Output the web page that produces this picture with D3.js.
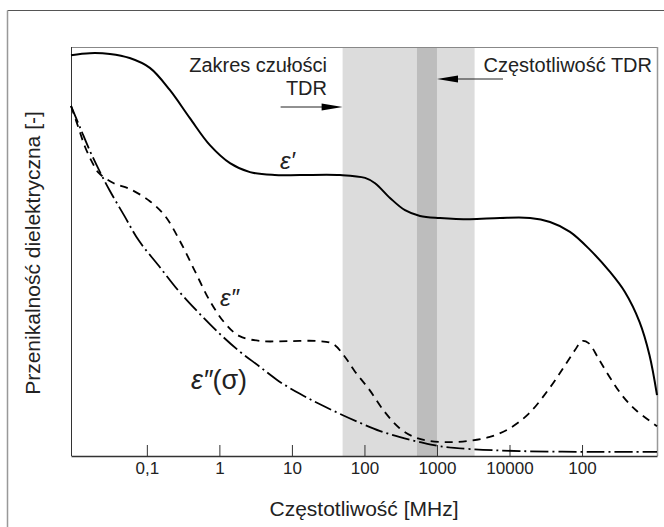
<!DOCTYPE html>
<html>
<head>
<meta charset="utf-8">
<script src="https://cdn.jsdelivr.net/npm/d3@7"></script>
<style>
  html, body { margin: 0; padding: 0; background: #fff; }
  svg { display: block; font-family: "Liberation Sans", Arial, sans-serif; }
</style>
</head>
<body>
<svg id="chart" width="664" height="527"></svg>
<script>
// Frequency axis ticks (MHz) and their printed labels
const tickValues = [0.1, 1, 10, 100, 1000, 10000, 100000];
const tickLabels = ["0,1", "1", "10", "100", "1000", "10000", "100"];

// Shaded frequency bands (MHz)
const tdrSensitivityRange = [50, 3300];
const tdrOperatingRange = [530, 1000];

// epsilon' (real permittivity), relative units
const realFreq = [0.009, 0.0164, 0.031, 0.058, 0.11, 0.207, 0.392, 0.74, 1.4, 2.64, 5.8, 12.9, 46, 102, 140, 225, 362, 583, 1100, 2850, 7400, 19200, 36200, 68200, 129000, 243000, 390000, 620000, 850000, 1080000];
const realVal  = [98.0, 98.5, 98.3, 97.3, 94.9, 89.5, 82.6, 76.0, 71.6, 69.4, 68.7, 68.7, 68.7, 68.0, 66.7, 63.1, 60.1, 58.7, 58.2, 57.9, 58.2, 58.2, 57.2, 54.8, 50.4, 45.0, 40.1, 32.8, 24.7, 14.9];

// epsilon'' (loss factor), relative units
const lossFreq = [0.009, 0.0112, 0.0139, 0.0173, 0.0217, 0.035, 0.058, 0.11, 0.178, 0.285, 0.46, 0.74, 1.19, 1.9, 3.8, 9.1, 23, 37, 53, 73, 118, 190, 305, 490, 780, 1470, 2760, 5200, 9700, 18300, 34000, 55000, 80000, 100000, 123000, 170000, 250000, 380000, 570000, 1080000];
const lossVal  = [85.6, 80.7, 75.8, 72.1, 69.2, 66.7, 65.3, 62.3, 58.7, 52.6, 45.2, 37.9, 32.5, 29.3, 28.1, 28.1, 28.1, 27.4, 24.4, 20.8, 16.1, 10.8, 6.8, 4.6, 3.7, 3.4, 3.7, 4.6, 6.6, 10.3, 16.1, 21.5, 25.9, 28.1, 27.6, 23.7, 18.8, 14.2, 11.0, 7.3];

// epsilon''(sigma) (conductivity loss), relative units
const condFreq = [0.009, 0.0122, 0.0164, 0.0222, 0.031, 0.049, 0.078, 0.146, 0.276, 0.52, 0.98, 1.86, 3.5, 6.6, 12.9, 24, 46, 87, 165, 310, 583, 1100, 2850, 14000, 180000, 1080000];
const condVal  = [85.6, 80.0, 74.6, 69.7, 64.8, 58.7, 52.6, 46.5, 40.3, 35.0, 30.1, 25.7, 22.0, 18.3, 15.2, 12.7, 10.3, 8.1, 6.1, 4.6, 3.4, 2.4, 1.7, 1.2, 1.0, 1.0];

const svg = d3.select("#chart");

const plot = { left: 71, right: 657, top: 47, bottom: 456 };

const x = d3.scaleLog().domain([0.009, 1080000]).range([plot.left, plot.right]);
const y = d3.scaleLinear().domain([0, 100]).range([plot.bottom, plot.top]);

// Outer frame (only the top and left edges fall inside the page)
svg.append("line").attr("x1", 7.5).attr("x2", 664).attr("y1", 10.5).attr("y2", 10.5)
  .attr("stroke", "#555").attr("stroke-width", 1);
svg.append("line").attr("x1", 7.5).attr("x2", 7.5).attr("y1", 10.5).attr("y2", 527)
  .attr("stroke", "#999").attr("stroke-width", 1.5);

// Frequency bands
svg.append("rect")
  .attr("x", x(tdrSensitivityRange[0])).attr("y", plot.top)
  .attr("width", x(tdrSensitivityRange[1]) - x(tdrSensitivityRange[0]))
  .attr("height", plot.bottom - plot.top)
  .attr("fill", "#dcdcdc");
svg.append("rect")
  .attr("x", x(tdrOperatingRange[0])).attr("y", plot.top)
  .attr("width", x(tdrOperatingRange[1]) - x(tdrOperatingRange[0]))
  .attr("height", plot.bottom - plot.top)
  .attr("fill", "#bdbdbd");

// Plot frame: light top and right edges
svg.append("line").attr("x1", plot.left).attr("x2", plot.right + 0.5)
  .attr("y1", plot.top + 0.5).attr("y2", plot.top + 0.5)
  .attr("stroke", "#888").attr("stroke-width", 1);
svg.append("line").attr("x1", plot.right + 0.5).attr("x2", plot.right + 0.5)
  .attr("y1", plot.top).attr("y2", plot.bottom)
  .attr("stroke", "#999").attr("stroke-width", 1.5);

// Left axis (no ticks)
svg.append("line").attr("x1", plot.left + 0.5).attr("x2", plot.left + 0.5)
  .attr("y1", plot.top).attr("y2", plot.bottom)
  .attr("stroke", "#333").attr("stroke-width", 1);

// Bottom axis with inward ticks
const xAxis = d3.axisBottom(x)
  .tickValues(tickValues)
  .tickFormat((d, i) => tickLabels[i])
  .tickSizeInner(-11)
  .tickSizeOuter(0)
  .tickPadding(6);

const gx = svg.append("g")
  .attr("transform", `translate(0,${plot.bottom})`)
  .call(xAxis);
gx.select(".domain").attr("stroke", "#333").attr("stroke-width", 1.3);
gx.selectAll(".tick line").attr("stroke", "#333");
gx.selectAll(".tick text")
  .attr("font-size", 17)
  .attr("font-family", "Liberation Sans, Arial, sans-serif")
  .attr("fill", "#222");

// Curves
const line = (fx, vy) => d3.line()
  .x((d, i) => x(fx[i]))
  .y((d, i) => y(vy[i]))
  .curve(d3.curveCatmullRom.alpha(0.5))(vy);

const curves = svg.append("g").attr("fill", "none").attr("stroke", "#000");

curves.append("path")
  .attr("d", line(condFreq, condVal))
  .attr("stroke-width", 1.8)
  .attr("stroke-dasharray", "18 4 2 4");

curves.append("path")
  .attr("d", line(lossFreq, lossVal))
  .attr("stroke-width", 1.8)
  .attr("stroke-dasharray", "8 6");

curves.append("path")
  .attr("d", line(realFreq, realVal))
  .attr("stroke-width", 2);

// Curve labels
const labels = svg.append("g")
  .attr("font-family", "Liberation Sans, Arial, sans-serif")
  .attr("fill", "#222");

labels.append("text")
  .attr("x", 280).attr("y", 169)
  .attr("font-size", 24).attr("font-style", "italic")
  .text("ε′");

labels.append("text")
  .attr("x", 220).attr("y", 306)
  .attr("font-size", 24).attr("font-style", "italic")
  .text("ε″");

const sigmaLabel = labels.append("text")
  .attr("x", 191).attr("y", 389)
  .attr("font-size", 27);
sigmaLabel.append("tspan").attr("font-style", "italic").text("ε″");
sigmaLabel.append("tspan").text("(σ)");

// Band annotations
const ann = svg.append("g")
  .attr("font-family", "Liberation Sans, Arial, sans-serif")
  .attr("font-size", 20)
  .attr("fill", "#222");

ann.append("text").attr("x", 327).attr("y", 72).attr("text-anchor", "end").text("Zakres czułości");
ann.append("text").attr("x", 327).attr("y", 95).attr("text-anchor", "end").text("TDR");
ann.append("text").attr("x", 652).attr("y", 72).attr("text-anchor", "end").text("Częstotliwość TDR");

// Arrow into the sensitivity band
const a1x = x(tdrSensitivityRange[0]);
svg.append("line").attr("x1", a1x - 62).attr("x2", a1x - 18).attr("y1", 107).attr("y2", 107)
  .attr("stroke", "#222").attr("stroke-width", 1);
svg.append("path")
  .attr("d", `M${a1x},107 L${a1x - 21},103.5 L${a1x - 21},110.5 Z`)
  .attr("fill", "#000");

// Arrow toward the operating frequency
const a2x = x(tdrOperatingRange[1]);
svg.append("line").attr("x1", a2x + 18).attr("x2", a2x + 66).attr("y1", 79).attr("y2", 79)
  .attr("stroke", "#222").attr("stroke-width", 1);
svg.append("path")
  .attr("d", `M${a2x},79 L${a2x + 21},75.5 L${a2x + 21},82.5 Z`)
  .attr("fill", "#000");

// Axis titles
svg.append("text")
  .attr("x", (plot.left + plot.right) / 2).attr("y", 516)
  .attr("text-anchor", "middle")
  .attr("font-size", 21).attr("fill", "#222")
  .text("Częstotliwość [MHz]");

svg.append("text")
  .attr("transform", "translate(40,253) rotate(-90)")
  .attr("text-anchor", "middle")
  .attr("font-size", 21).attr("fill", "#222")
  .text("Przenikalność dielektryczna [-]");
</script>
</body>
</html>
